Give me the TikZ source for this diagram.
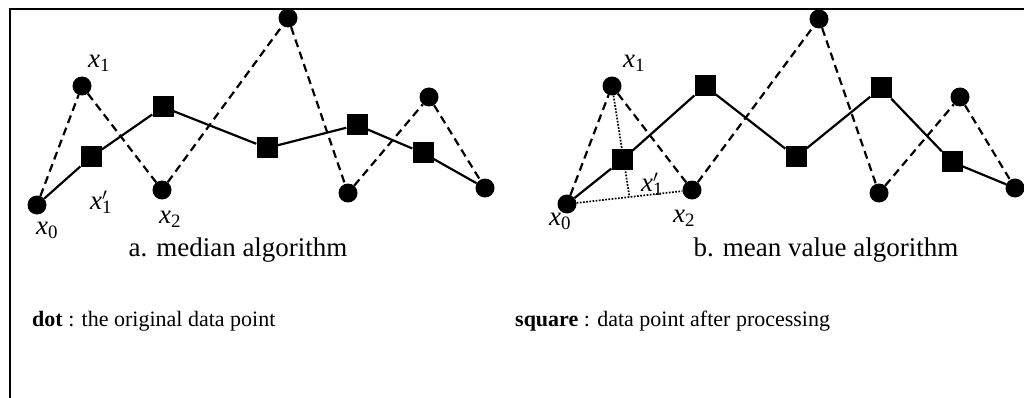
\documentclass[tikz,border=0pt]{standalone}
\usepackage{fontspec}
\setmainfont{Liberation Serif}
\usetikzlibrary{calc}

\tikzset{
  dotpt/.style={circle, fill=black, inner sep=0pt, minimum size=19pt},
  sqpt/.style={rectangle, fill=black, inner sep=0pt, minimum size=21pt},
  origline/.style={line width=2.2pt, dash pattern=on 8pt off 5pt},
  procline/.style={line width=2.2pt},
  helpline/.style={line width=1.7pt, dash pattern=on 1.7pt off 1.5pt},
  lbl/.style={font=\fontsize{27}{27}\selectfont, inner sep=0pt},
  caption/.style={font=\fontsize{27}{27}\selectfont, inner sep=0pt},
  legend/.style={font=\fontsize{22}{22}\selectfont, inner sep=0pt, anchor=base west}
}
\newcommand{\xsub}[1]{{\itshape x}\textsubscript{#1}}
\newcommand{\xpsub}[1]{{\itshape x}\rlap{$^{\prime}$}\textsubscript{#1}}

\begin{document}
\begin{tikzpicture}[x=1pt, y=-1pt]
  \useasboundingbox (0,0) rectangle (1024,398);
  % frame
  \draw[line width=2.5pt] (10,398) -- (10,9) -- (1024,9);

  % a. median algorithm
  \foreach \name/\px/\py in {a0/37/205, a1/82/86, a2/162/190, a3/288/18, a4/348/193, a5/429/97, a6/485/188}
    \node[dotpt] (\name) at (\px,\py) {};
  \foreach \name/\px/\py in {sa1/91/157, sa2/163/107, sa3/267/148, sa4/357/125, sa5/423/153}
    \node[sqpt] (\name) at (\px,\py) {};
  \draw[origline] (a0) -- (a1) -- (a2) -- (a3) -- (a4) -- (a5) -- (a6);
  \draw[procline] (a0) -- (sa1) -- (sa2) -- (sa3) -- (sa4) -- (sa5) -- (a6);
  \node[lbl] (la1) at (99,63) {\xsub{1}};
  \node[lbl] (la1p) at (101,202) {\xpsub{1}};
  \node[lbl] (la2) at (170,219) {\xsub{2}};
  \node[lbl] (la0) at (47,230) {\xsub{0}};
  \node[caption] (capa) at (238,250) {a. median algorithm};

  % b. mean value algorithm
  \foreach \name/\px/\py in {b0/567/204, b1/612/86, b2/692/190, b3/819/19, b4/879/193, b5/960/97, b6/1015/188}
    \node[dotpt] (\name) at (\px,\py) {};
  \foreach \name/\px/\py in {sb1/622/160, sb2/705/86, sb3/796/157, sb4/881/88, sb5/952/162}
    \node[sqpt] (\name) at (\px,\py) {};
  \coordinate (bm) at ($(b0)!0.5!(b2)$);
  \draw[helpline] (b0) -- (b2);
  \draw[helpline] (b1) -- (bm);
  \draw[origline] (b0) -- (b1) -- (b2) -- (b3) -- (b4) -- (b5) -- (b6);
  \draw[procline] (b0) -- (sb1) -- (sb2) -- (sb3) -- (sb4) -- (sb5) -- (b6);
  \node[lbl] (lb1) at (634,63) {\xsub{1}};
  \node[lbl] (lb1p) at (652,184) {\xpsub{1}};
  \node[lbl] (lb2) at (684,218) {\xsub{2}};
  \node[lbl] (lb0) at (560,221) {\xsub{0}};
  \node[caption] (capb) at (826,250) {b. mean value algorithm};

  % legend
  \node[legend] (legdot) at (32,326) {\textbf{dot} : the original data point};
  \node[legend] (legsq) at (515,326) {\textbf{square} : data point after processing};
\end{tikzpicture}
\end{document}
